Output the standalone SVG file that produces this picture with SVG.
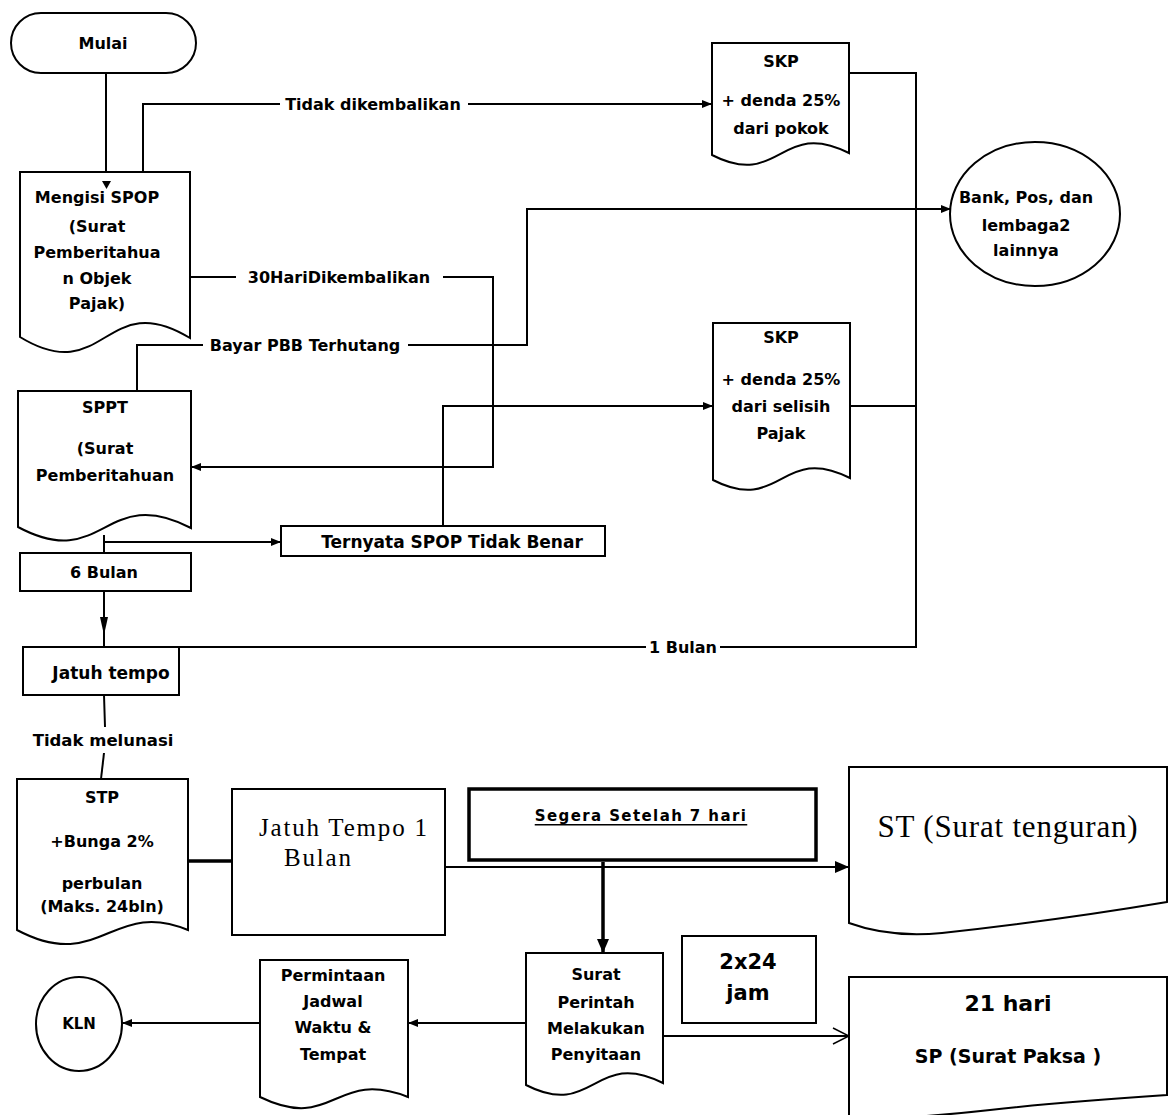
<svg xmlns="http://www.w3.org/2000/svg" width="1171" height="1115" viewBox="0 0 1171 1115">
<style>
.s{fill:#fff;stroke:#000;stroke-width:2}
.tk{fill:#fff;stroke:#000;stroke-width:3.5}
.c{fill:none;stroke:#000;stroke-width:2}
.ct{fill:none;stroke:#000;stroke-width:3.5}
text{font-family:"DejaVu Sans","Liberation Sans",sans-serif;font-weight:bold;font-size:16px;fill:#000;text-anchor:middle;dominant-baseline:central}
.sf{font-family:"Liberation Serif","DejaVu Serif",serif;font-weight:normal;text-anchor:start}
.f15{font-size:15px}
.f17{font-size:17px}
.f19{font-size:19px}
.f21{font-size:21px}
.f22{font-size:22px}
</style>
<defs>
<marker id="a" markerWidth="10" markerHeight="8" refX="10" refY="4" orient="auto" markerUnits="userSpaceOnUse"><path d="M0,0 L10,4 L0,8 Z" fill="#000"/></marker>
<marker id="ab" markerWidth="14" markerHeight="12" refX="14" refY="6" orient="auto" markerUnits="userSpaceOnUse"><path d="M0,0 L14,6 L0,12 Z" fill="#000"/></marker>
<marker id="o" markerWidth="18" markerHeight="18" refX="17" refY="9" orient="auto" markerUnits="userSpaceOnUse"><path d="M1,1 L17,9 L1,17" fill="none" stroke="#000" stroke-width="1.5"/></marker>
</defs>

<g id="connectors">
<path class="c" d="M106,73 V182"/>
<path class="c" d="M143,172 V104 H280"/>
<path class="c" d="M468,104 H712" marker-end="url(#a)"/>
<path class="c" d="M190,277 H236"/>
<path class="c" d="M443,277 H493 V467 H191" marker-end="url(#a)"/>
<path class="c" d="M137,391 V345 H203"/>
<path class="c" d="M408,345 H527 V209 H951" marker-end="url(#a)"/>
<path class="c" d="M849,73 H916 V647 H720"/>
<path class="c" d="M646,647 H179"/>
<path class="c" d="M850,406 H916"/>
<path class="c" d="M443,526 V406 H713" marker-end="url(#a)"/>
<path class="c" d="M104,535 V553"/>
<path class="c" d="M104,542 H281" marker-end="url(#a)"/>
<path class="c" d="M104,591 V647"/>
<polygon points="100,617 108,617 104,635" fill="#000"/>
<path class="c" d="M104,695 L105,727"/>
<path class="c" d="M104,753 L101,779"/>
<path class="ct" d="M188,861 H232"/>
<path class="c" d="M445,867 H849" stroke-width="2.5" marker-end="url(#ab)"/>
<path class="ct" d="M603,862 V953" marker-end="url(#ab)"/>
<path class="c" d="M663,1036 H849" marker-end="url(#o)"/>
<path class="c" d="M526,1023 H408" marker-end="url(#a)"/>
<path class="c" d="M260,1023 H122" marker-end="url(#a)"/>
<text x="373" y="104">Tidak dikembalikan</text>
<text x="339" y="277">30HariDikembalikan</text>
<text x="305" y="345">Bayar PBB Terhutang</text>
<text x="683" y="647">1 Bulan</text>
<text x="103" y="740" style="font-size:16.5px">Tidak melunasi</text>
</g>

<g id="mulai">
<rect class="s" x="11" y="13" width="185" height="60" rx="30"/>
<text x="103" y="43">Mulai</text>
</g>

<g id="spop">
<path class="s" d="M20,172 H190 V338 C105,286 105,389 20,337 Z"/>
<text x="97" y="197">Mengisi SPOP</text>
<text x="97" y="226">(Surat</text>
<text x="97" y="252">Pemberitahua</text>
<text x="97" y="278">n Objek</text>
<text x="97" y="303">Pajak)</text>
</g>
<polygon points="102,181 111,181 106.5,189" fill="#000"/>

<g id="skp1">
<path class="s" d="M712,43 H849 V153 C780,118 780,190 712,155 Z"/>
<text x="781" y="61">SKP</text>
<text x="781" y="100">+ denda 25%</text>
<text x="781" y="128">dari pokok</text>
</g>

<g id="bank">
<ellipse class="s" cx="1035" cy="214" rx="85" ry="72"/>
<text x="1026" y="197">Bank, Pos, dan</text>
<text x="1026" y="225">lembaga2</text>
<text x="1026" y="250">lainnya</text>
</g>

<g id="skp2">
<path class="s" d="M713,323 H850 V478 C781,443 781,515 713,480 Z"/>
<text x="781" y="337">SKP</text>
<text x="781" y="379">+ denda 25%</text>
<text x="781" y="406">dari selisih</text>
<text x="781" y="433">Pajak</text>
</g>

<g id="sppt">
<path class="s" d="M18,391 H191 V528 C104,483 104,573 18,527 Z"/>
<text x="105" y="407">SPPT</text>
<text x="105" y="448">(Surat</text>
<text x="105" y="475">Pemberitahuan</text>
</g>

<g id="ternyata">
<rect class="s" x="281" y="526" width="324" height="30"/>
<text class="f17" x="452" y="542">Ternyata SPOP Tidak Benar</text>
</g>

<g id="enam-bulan">
<rect class="s" x="20" y="553" width="171" height="38"/>
<text x="104" y="572">6 Bulan</text>
</g>

<g id="jatuh-tempo">
<rect class="s" x="23" y="647" width="156" height="48"/>
<text class="f17" x="111" y="673">Jatuh tempo</text>
</g>

<g id="stp">
<path class="s" d="M17,779 H188 V930 C112,898 100,974 17,930 Z"/>
<text x="102" y="797">STP</text>
<text x="102" y="841">+Bunga 2%</text>
<text x="102" y="883">perbulan</text>
<text x="102" y="906">(Maks. 24bln)</text>
</g>

<g id="jatuh-tempo-1-bulan">
<rect class="s" x="232" y="789" width="213" height="146"/>
<text class="sf" x="259" y="827" style="font-size:25px" letter-spacing="1.8">Jatuh Tempo 1</text>
<text class="sf" x="284" y="857" style="font-size:25px" letter-spacing="1.8">Bulan</text>
</g>

<g id="segera">
<rect class="tk" x="469" y="789" width="347" height="71"/>
<text class="f15" x="641" y="816" letter-spacing="1.4" text-decoration="underline">Segera Setelah 7 hari</text>
</g>

<g id="st">
<path class="s" d="M849,767 H1167 V902 Q1060,920 942,933 Q890,938 849,923 Z"/>
<text class="sf" x="1008" y="826" style="font-size:31px;text-anchor:middle" letter-spacing="0.8">ST (Surat tenguran)</text>
</g>

<g id="surat-perintah">
<path class="s" d="M526,953 H663 V1083 C594,1048 594,1120 526,1085 Z"/>
<text x="596" y="974">Surat</text>
<text x="596" y="1002">Perintah</text>
<text x="596" y="1028">Melakukan</text>
<text x="596" y="1054">Penyitaan</text>
</g>

<g id="dua-kali-24-jam">
<rect class="s" x="682" y="936" width="134" height="87" stroke-width="3"/>
<text class="f21" x="748" y="962">2x24</text>
<text class="f21" x="748" y="993">jam</text>
</g>

<g id="sp">
<path class="s" d="M849,977 H1167 V1095 Q1060,1102 990,1110 Q920,1118 849,1120 Z"/>
<text class="f22" x="1008" y="1003">21 hari</text>
<text class="f19" x="1008" y="1056">SP (Surat Paksa )</text>
</g>

<g id="permintaan">
<path class="s" d="M260,960 H408 V1097 C334,1068 334,1133 260,1097 Z"/>
<text x="333" y="975">Permintaan</text>
<text x="333" y="1001">Jadwal</text>
<text x="333" y="1027">Waktu &amp;</text>
<text x="333" y="1054">Tempat</text>
</g>

<g id="kln">
<ellipse class="s" cx="79" cy="1024" rx="43" ry="47"/>
<text class="f15" x="79" y="1024">KLN</text>
</g>
</svg>
